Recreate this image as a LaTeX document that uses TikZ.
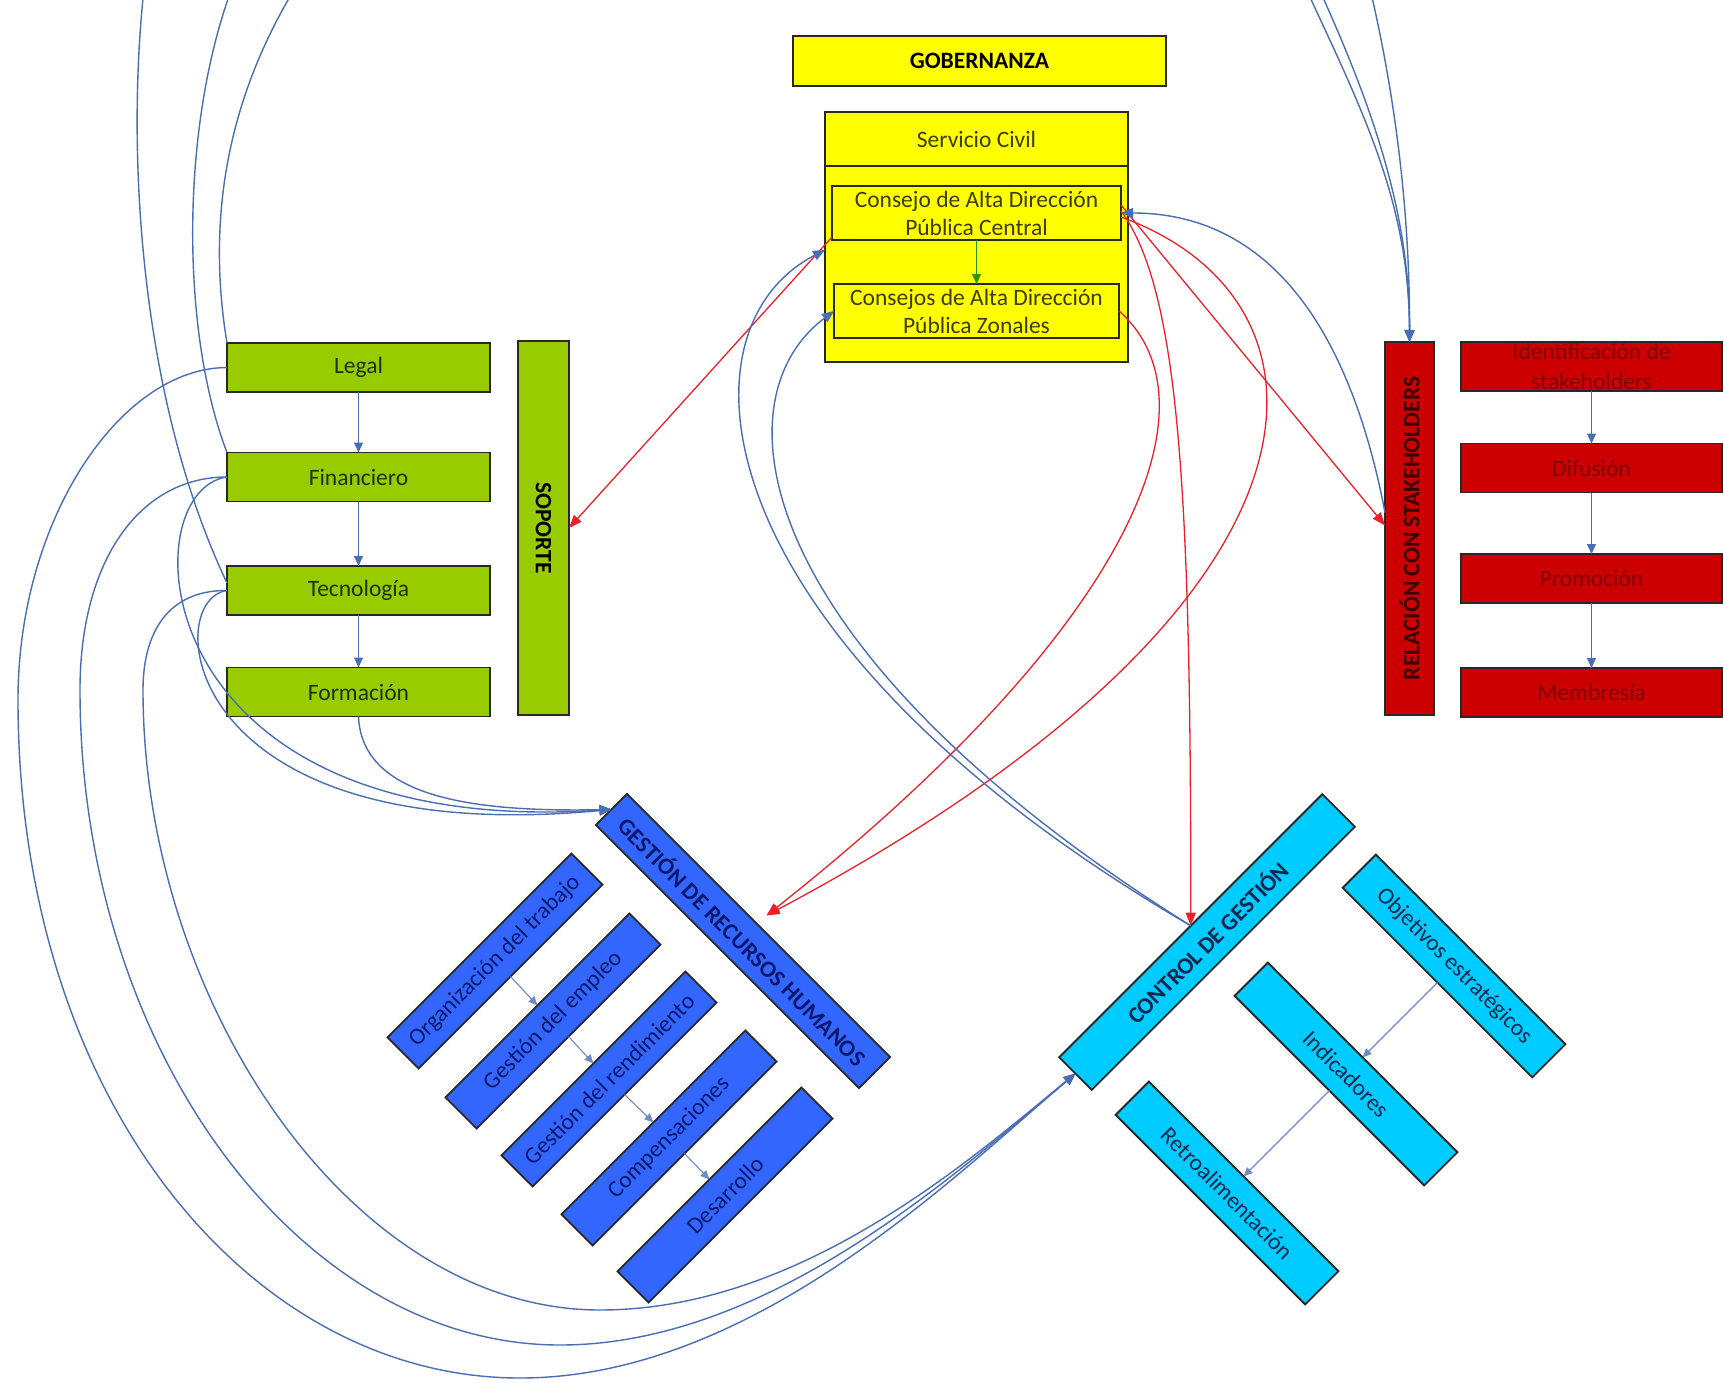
\documentclass[tikz,border=0pt]{standalone}
\usepackage{fontspec}
\setmainfont{Carlito}
\usetikzlibrary{arrows.meta,calc}
\definecolor{cyel}{RGB}{255,255,0}
\definecolor{cgrn}{RGB}{153,204,0}
\definecolor{cred}{RGB}{204,0,0}
\definecolor{chr}{RGB}{51,102,255}
\definecolor{ccy}{RGB}{0,204,255}
\definecolor{cblu}{RGB}{74,110,180}
\definecolor{clred}{RGB}{240,30,40}
\definecolor{cgar}{RGB}{40,150,0}
\definecolor{tgrn}{RGB}{30,50,0}
\definecolor{tyel}{RGB}{60,60,0}
\definecolor{tred}{RGB}{130,0,0}
\definecolor{trel}{RGB}{60,0,0}
\definecolor{thr}{RGB}{10,25,110}
\definecolor{tcy}{RGB}{10,40,80}
\definecolor{bord}{RGB}{40,40,40}
\newcommand\mytxt{\fontsize{23.5pt}{28pt}\selectfont}
\begin{document}
\begin{tikzpicture}[x=1pt,y=-1pt,
  box/.style={draw=bord,line width=1.8pt,inner sep=0pt,outer sep=0pt,font=\mytxt,align=center},
  ybox/.style={box,fill=cyel,text=tyel},
  gbox/.style={box,fill=cgrn,text=tgrn,minimum width=263pt,minimum height=49pt},
  rbox/.style={box,fill=cred,text=tred,minimum width=261pt,minimum height=49pt},
  hbox/.style={box,fill=chr,text=thr,minimum width=260pt,minimum height=44pt,rotate=45},
  cbox/.style={box,fill=ccy,text=tcy,minimum width=268pt,minimum height=47pt,rotate=-45},
  bl/.style={draw=cblu,line width=1.4pt,-{Triangle[length=12pt,width=10pt]}},
  rl/.style={draw=clred,line width=1.3pt,-{Triangle[length=13pt,width=10pt]}},
  ch/.style={draw=cblu,line width=1.3pt,-{Triangle[length=10pt,width=9pt]}},
  sm/.style={draw=cblu!80,line width=1.1pt,-{Triangle[length=9pt,width=8pt]}},
]
\useasboundingbox (0,0) rectangle (1724,1383);
\fill[white] (0,0) rectangle (1724,1383);
\clip (0,0) rectangle (1724,1383);

% ---------- Gobernanza ----------
\node[ybox,text=black,font=\mytxt\bfseries,minimum width=373pt,minimum height=50pt] (gob) at (979.5,61) {GOBERNANZA};
\node[ybox,minimum width=303pt,minimum height=196pt] (civbody) at (976.5,264) {};
\node[ybox,minimum width=303pt,minimum height=54pt] (civil) at (976.5,139) {Servicio Civil};
\node[ybox,line width=1.5pt,minimum width=289pt,minimum height=54pt] (central) at (976.5,213) {Consejo de Alta Dirección\\Pública Central};
\node[ybox,line width=1.5pt,minimum width=285pt,minimum height=54pt] (zonal) at (976.5,311) {Consejos de Alta Dirección\\Pública Zonales};

% ---------- Soporte ----------
\node[gbox] (legal) at (358.5,367.5) {Legal};
\node[gbox] (fin) at (358.5,477) {Financiero};
\node[gbox] (tec) at (358.5,590.5) {Tecnología};
\node[gbox] (form) at (358.5,692) {Formación};
\node[box,fill=cgrn,text=black,font=\mytxt\bfseries,minimum width=374pt,minimum height=51pt,rotate=-90] (soporte) at (543.5,528) {SOPORTE};

% ---------- Stakeholders ----------
\node[box,fill=cred,text=trel,font=\fontsize{23.5pt}{26pt}\selectfont\bfseries,minimum width=373pt,minimum height=49pt,rotate=90] (rel) at (1409.5,528.5) {RELACIÓN CON STAKEHOLDERS};
\node[rbox,font=\fontsize{23.5pt}{30pt}\selectfont] (ident) at (1591.5,366.5) {Identificación de\\stakeholders};
\node[rbox] (dif) at (1591.5,468) {Difusión};
\node[rbox] (prom) at (1591.5,578.5) {Promoción};
\node[rbox] (memb) at (1591.5,692.5) {Membresía};

% ---------- Recursos humanos ----------
\node[box,fill=chr,text=thr,font=\mytxt\bfseries,minimum width=372pt,minimum height=44pt,rotate=-45] (rrhh) at (743,941) {GESTIÓN DE RECURSOS HUMANOS};
\node[hbox] (org) at (495,961) {Organización del trabajo};
\node[hbox] (emp) at (553,1021) {Gestión del empleo};
\node[hbox] (rend) at (609,1079) {Gestión del rendimiento};
\node[hbox] (comp) at (669,1138) {Compensaciones};
\node[hbox] (des) at (725,1195) {Desarrollo};

% ---------- Control de gestion ----------
\node[box,fill=ccy,text=tcy,font=\mytxt\bfseries,minimum width=372pt,minimum height=46pt,rotate=45] (control) at (1207,942) {CONTROL DE GESTIÓN};
\node[cbox] (obj) at (1454,966) {Objetivos estratégicos};
\node[cbox] (ind) at (1346,1074) {Indicadores};
\node[cbox] (retro) at (1227,1193) {Retroalimentación};

% ---------- chains ----------
\draw[draw=cgar,line width=1.4pt,-{Triangle[length=10pt,width=9pt]}] (central) -- (zonal);
\draw[ch] (legal) -- (fin);
\draw[ch] (fin) -- (tec);
\draw[ch] (tec) -- (form);
\draw[ch] (ident) -- (dif);
\draw[ch] (dif) -- (prom);
\draw[ch] (prom) -- (memb);
\draw[sm] (org.south) -- (emp.north);
\draw[sm] (emp.south) -- (rend.north);
\draw[sm] (rend.south) -- (comp.north);
\draw[sm] (comp.south) -- (des.north);
\draw[sm] (obj.south) -- (ind.north);
\draw[sm] (ind.south) -- (retro.north);

% ---------- red connectors ----------
\draw[rl] ($(central.south west)+(0,-3)$) -- (soporte.north);
\draw[rl] ($(central.east)+(0,-8)$) -- ($(rel.north)+(0,-3)$);
\draw[rl] ($(central.east)+(0,-2)$) .. controls (1180,290) and (1191,500) .. (control.north);
\draw[rl] ($(central.east)+(0,4)$) .. controls (1350,300) and (1360,600) .. ($(rrhh.north)+(8,-10)$);
\draw[rl] (zonal.east) .. controls (1220,400) and (1140,620) .. ($(rrhh.north)+(8,-10)$);

% ---------- blue connectors ----------
\draw[bl] (control.north) .. controls (700,640) and (670,330) .. ($(civbody.west)+(0,-14)$);
\draw[bl] (control.north) .. controls (750,650) and (715,400) .. (zonal.west);
\draw[bl] ($(rel.north)+(0,-16)$) .. controls (1350,330) and (1270,213) .. (central.east);

% to RRHH
\draw[bl] (fin.west) .. controls (130,490) and (140,840) .. (rrhh.west);
\draw[bl] (tec.west) .. controls (160,600) and (180,850) .. (rrhh.west);
\draw[bl] (form.south) .. controls (362,800) and (480,812) .. (rrhh.west);

% to control (around the bottom)
\draw[bl] (legal.west) .. controls (120,368) and (18,520) .. (18,700) .. controls (18,1100) and (250,1378) .. (520,1378) .. controls (750,1378) and (950,1180) .. (control.west);
\draw[bl] (fin.west) .. controls (140,477) and (80,560) .. (80,690) .. controls (80,1050) and (300,1345) .. (560,1345) .. controls (770,1345) and (960,1170) .. (control.west);
\draw[bl] (tec.west) .. controls (170,590) and (143,630) .. (143,690) .. controls (143,1000) and (350,1310) .. (600,1310) .. controls (800,1310) and (970,1160) .. (control.west);

% to stakeholders (over the top)
\draw[bl] (legal.north west) .. controls (200,180) and (250,60) .. (300,-20) .. controls (350,-100) and (1252,-130) .. (1302,-20) .. controls (1362,110) and (1409,200) .. (rel.east);
\draw[bl] (fin.north west) .. controls (180,330) and (180,120) .. (235,-20) .. controls (280,-130) and (1263,-140) .. (1315,-20) .. controls (1370,100) and (1410,210) .. (rel.east);
\draw[bl] ($(tec.north west)+(0,17)$) .. controls (140,400) and (125,150) .. (145,-20) .. controls (160,-200) and (1333,-200) .. (1368,-20) .. controls (1392,80) and (1410,200) .. (rel.east);
\end{tikzpicture}
\end{document}
